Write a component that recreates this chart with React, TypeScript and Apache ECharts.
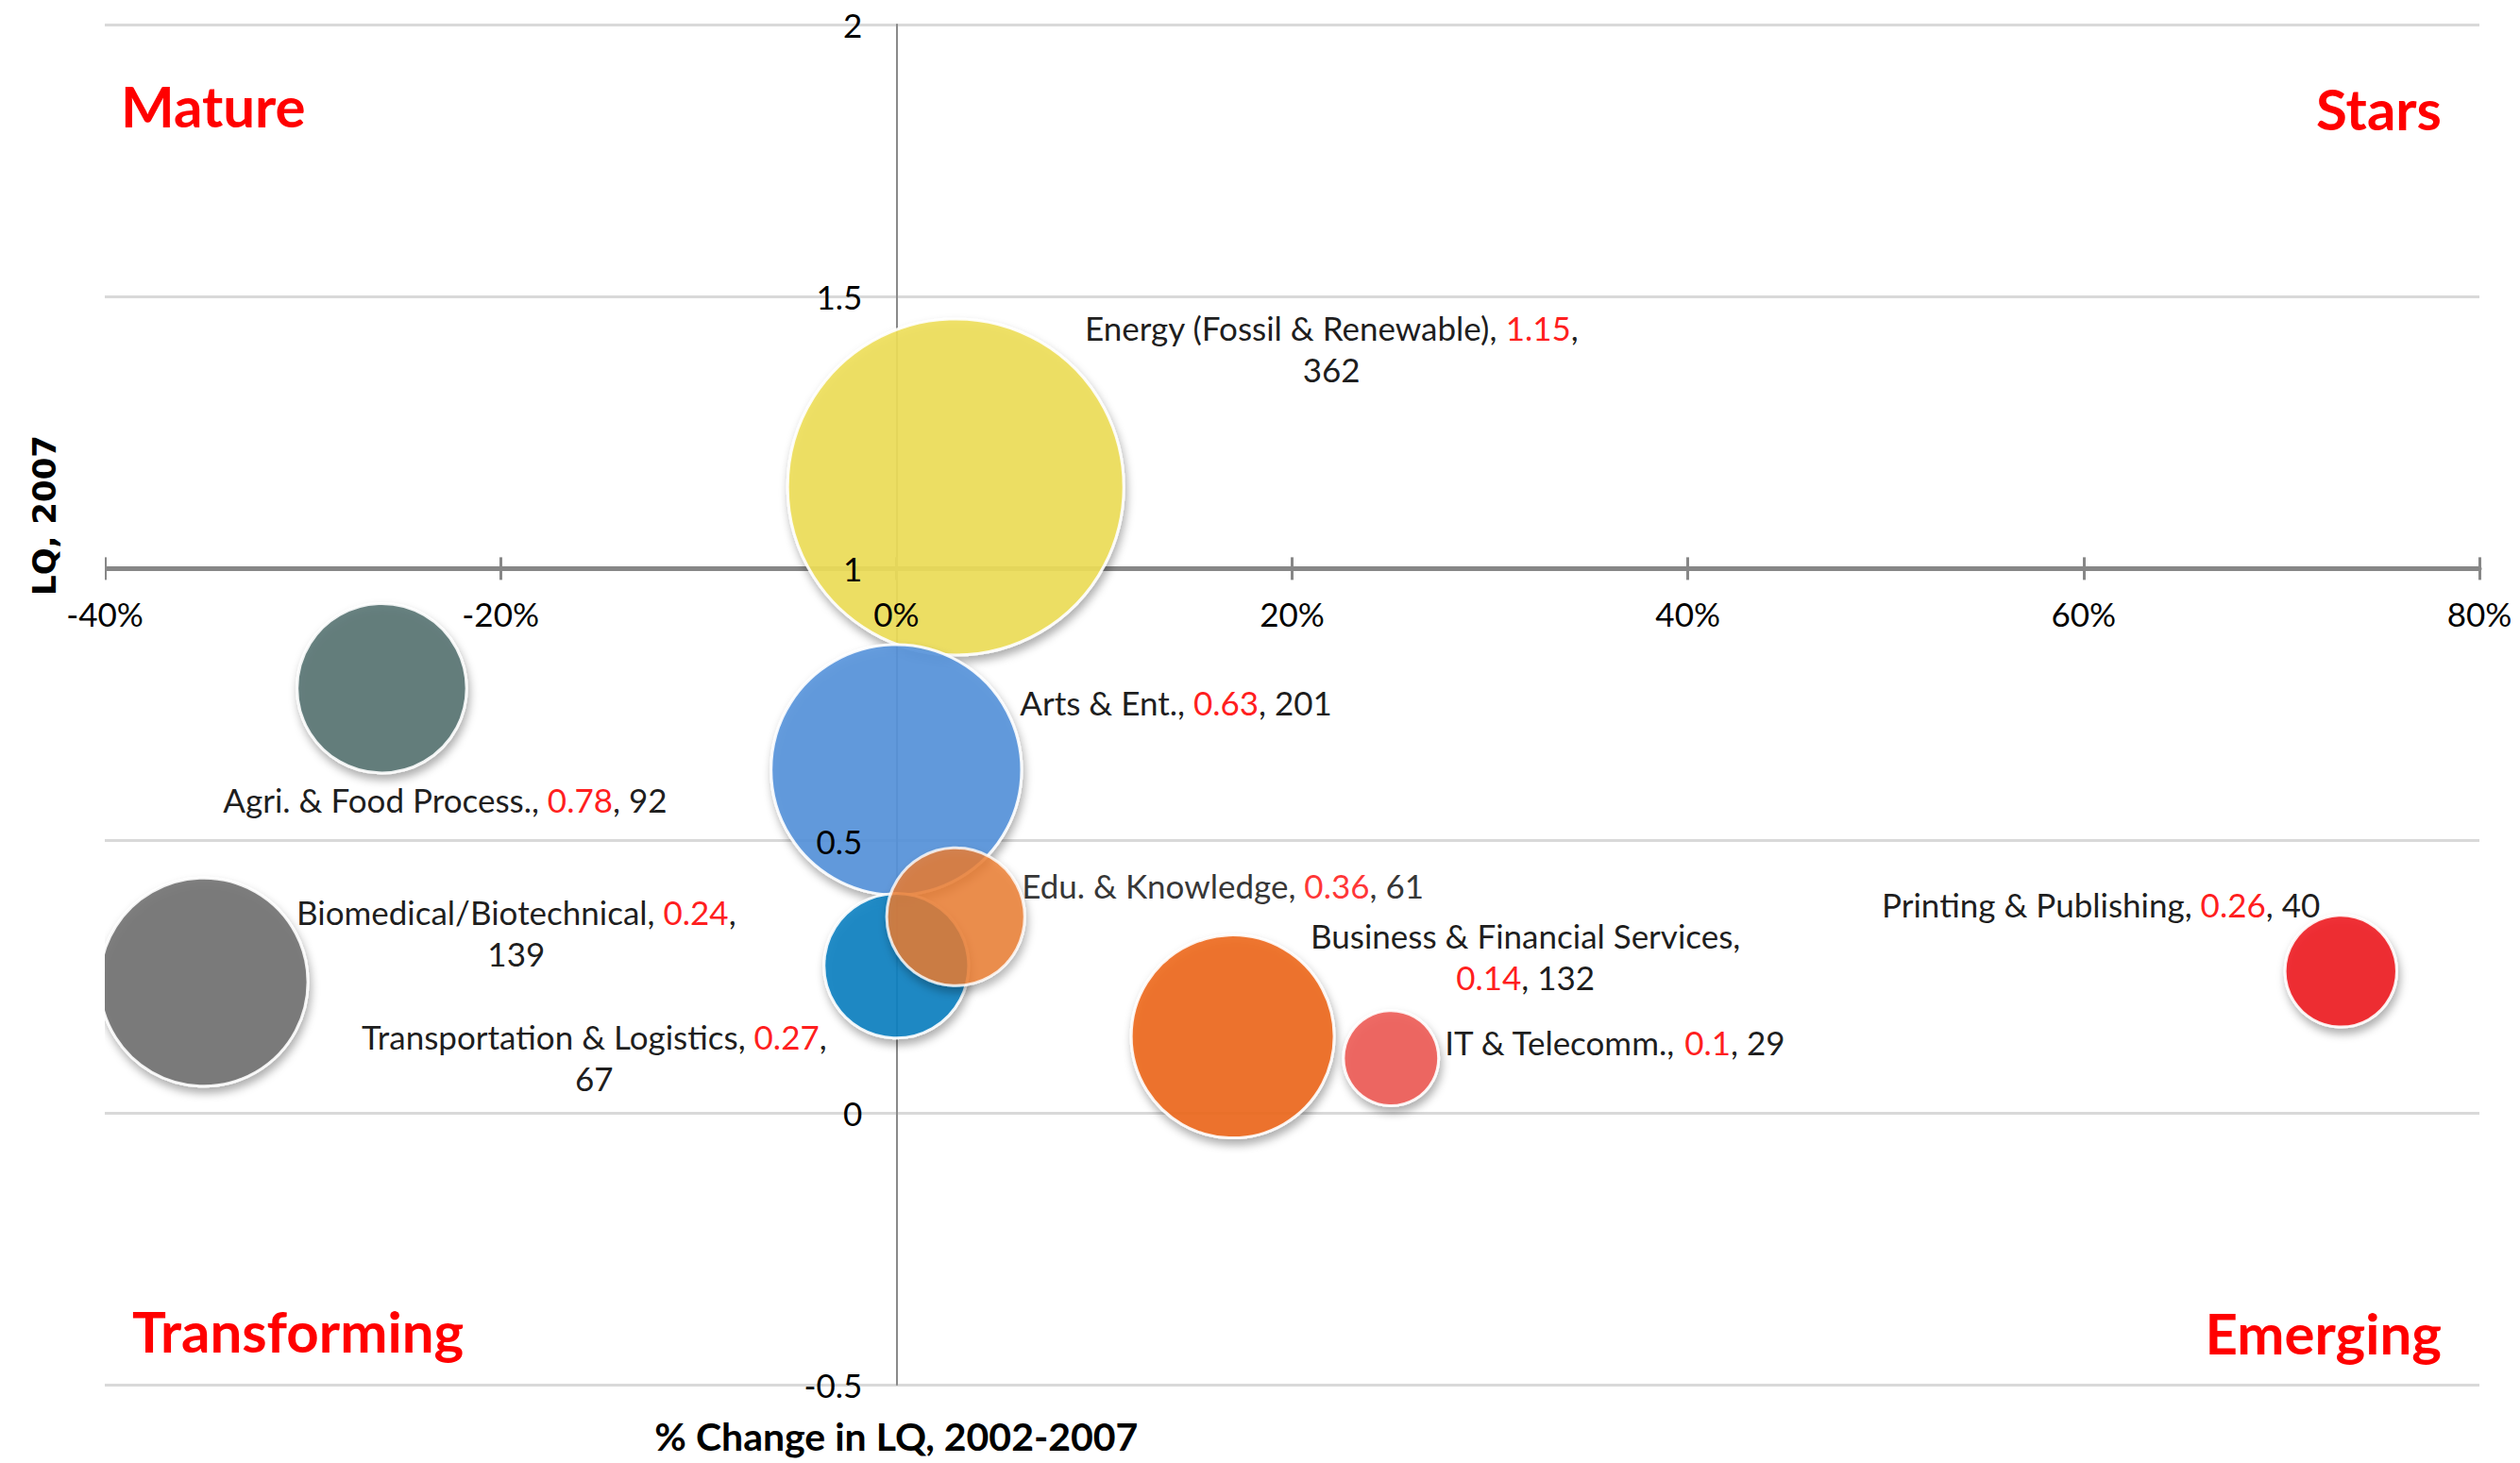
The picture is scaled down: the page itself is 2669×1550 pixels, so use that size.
import React, { useEffect, useRef } from 'react';
import * as echarts from 'echarts';

// ---- Data ----
const names = [
  'Energy (Fossil & Renewable)',
  'Arts & Ent.',
  'Agri. & Food Process.',
  'Biomedical/Biotechnical',
  'Transportation & Logistics',
  'Edu. & Knowledge',
  'Business & Financial Services',
  'IT & Telecomm.',
  'Printing & Publishing',
];
const pctChange = [3, 0, -26, -35, 0, 3, 17, 25, 73]; // % change in LQ, 2002-2007
const lq2007 = [1.15, 0.63, 0.78, 0.24, 0.27, 0.36, 0.14, 0.1, 0.26];
const sizes = [362, 201, 92, 139, 67, 61, 132, 29, 40];
const quadrantLabels = ['Mature', 'Stars', 'Transforming', 'Emerging'];

// ---- Styles / layout ----
const colors = ['#EEDF59', '#5793DC', '#597674', '#727272', '#0D82C2', '#ED7D31', '#EE6A1F', '#EE5C57', '#F02024'];
const opacities = [0.9, 0.9, 0.9, 0.9, 0.9, 0.8, 0.9, 0.9, 0.9];
const labelLayout: { align: string; offset: number[]; wrap: string }[] = [
  { align: 'center', offset: [398, -147], wrap: 'afterValue' },
  { align: 'left', offset: [131, -72], wrap: 'none' },
  { align: 'center', offset: [67, 118], wrap: 'none' },
  { align: 'center', offset: [331, -52], wrap: 'afterValue' },
  { align: 'center', offset: [-320, 97], wrap: 'afterValue' },
  { align: 'left', offset: [70, -33], wrap: 'none' },
  { align: 'center', offset: [310, -85], wrap: 'afterName' },
  { align: 'left', offset: [57, -17], wrap: 'none' },
  { align: 'right', offset: [-22, -71], wrap: 'none' },
];

const W = 2669;
const H = 1550;
const gridLeft = 111;
const gridTop = 26;
const gridWidth = 2515;
const gridHeight = 1441;
const xMin = -40, xMax = 80, xInterval = 20;
const yMin = -0.5, yMax = 2, yInterval = 0.5;
const xCrossAt = 1;
const yCrossAt = 0;
const MAX_DIAMETER = 356;
const maxSize = Math.max(...sizes);
const FONT = 'Lato';
const LABEL_SIZE = 35;

function labelText(i: number) {
  const n = names[i], v = lq2007[i], s = sizes[i];
  const w = labelLayout[i].wrap;
  if (w === 'afterValue') return `{n|${n}, }{r|${v}}{n|,}\n{n|${s}}`;
  if (w === 'afterName') return `{n|${n},}\n{r|${v}}{n|, ${s}}`;
  return `{n|${n}, }{r|${v}}{n|, ${s}}`;
}

export default function App() {
  const ref = useRef<HTMLDivElement>(null);
  useEffect(() => {
    if (!ref.current) return;
    const chart = echarts.init(ref.current, null, { renderer: 'svg' });
    const xAxisOffset = -gridHeight * (xCrossAt - yMin) / (yMax - yMin);
    const yAxisOffset = -gridWidth * (yCrossAt - xMin) / (xMax - xMin);
    const zeroX = gridLeft + gridWidth * (yCrossAt - xMin) / (xMax - xMin);
    const axisGray = '#878787';
    const baseX = {
      type: 'value',
      min: xMin,
      max: xMax,
      interval: xInterval,
      position: 'bottom',
      offset: xAxisOffset,
      splitLine: { show: false },
    };
    const baseY = {
      type: 'value',
      min: yMin,
      max: yMax,
      interval: yInterval,
      position: 'left',
      offset: yAxisOffset,
    };
    const option = {
      animation: false,
      backgroundColor: '#ffffff',
      grid: { left: gridLeft, top: gridTop, width: gridWidth, height: gridHeight, containLabel: false },
      xAxis: [
        {
          ...baseX,
          axisLine: { show: true, onZero: false, lineStyle: { color: axisGray, width: 5 } },
          axisTick: { show: true, length: 12, lineStyle: { color: axisGray, width: 3 } },
          axisLabel: { show: false },
          z: 0,
        },
        {
          ...baseX,
          axisLine: { show: false, onZero: false },
          axisTick: { show: true, inside: true, length: 12, lineStyle: { color: axisGray, width: 3 } },
          axisLabel: { show: false },
          z: 0,
        },
        {
          ...baseX,
          axisLine: { show: false, onZero: false },
          axisTick: { show: false },
          axisLabel: {
            show: true,
            margin: 30,
            formatter: '{value}%',
            color: '#000',
            fontFamily: FONT,
            fontSize: LABEL_SIZE,
          },
          z: 5,
        },
      ],
      yAxis: [
        {
          ...baseY,
          axisLine: { show: true, onZero: false, lineStyle: { color: '#8a8a8a', width: 2 } },
          axisTick: { show: false },
          axisLabel: { show: false },
          splitLine: { show: true, lineStyle: { color: '#d9d9d9', width: 3 } },
          z: 0,
        },
        {
          ...baseY,
          axisLine: { show: false, onZero: false },
          axisTick: { show: false },
          splitLine: { show: false },
          axisLabel: { show: true, margin: 36, color: '#000', fontFamily: FONT, fontSize: LABEL_SIZE },
          z: 5,
        },
      ],
      series: [
        {
          type: 'scatter',
          xAxisIndex: 0,
          yAxisIndex: 0,
          z: 2,
          data: names.map((n, i) => ({
            name: n,
            value: [pctChange[i], lq2007[i], sizes[i]],
            itemStyle: { color: colors[i], opacity: opacities[i] },
            label: { align: labelLayout[i].align, offset: labelLayout[i].offset },
          })),
          symbolSize: (val: number[]) => MAX_DIAMETER * Math.sqrt(val[2] / maxSize),
          itemStyle: {
            borderColor: '#ffffff',
            borderWidth: 3,
            shadowBlur: 10,
            shadowOffsetX: 2,
            shadowOffsetY: 6,
            shadowColor: 'rgba(0,0,0,0.35)',
          },
          label: {
            show: true,
            position: 'inside',
            verticalAlign: 'middle',
            formatter: (p: any) => labelText(p.dataIndex),
            rich: {
              n: { color: '#000', fontSize: LABEL_SIZE, fontFamily: FONT, lineHeight: 44 },
              r: { color: '#ff0000', fontSize: LABEL_SIZE, fontFamily: FONT, lineHeight: 44 },
            },
          },
          emphasis: { disabled: true },
        },
      ],
      graphic: [
        {
          type: 'rect',
          shape: { x: 0, y: gridTop, width: gridLeft, height: gridHeight },
          style: { fill: '#ffffff' },
          z: 3,
          silent: true,
        },
        {
          type: 'text', x: 128, y: 112, z: 6,
          style: { text: quadrantLabels[0], fill: '#ff0000', font: `bold 60px ${FONT}`, align: 'left', verticalAlign: 'middle', textAlign: 'left', textVerticalAlign: 'middle' },
        },
        {
          type: 'text', x: 2586, y: 115, z: 6,
          style: { text: quadrantLabels[1], fill: '#ff0000', font: `bold 60px ${FONT}`, align: 'right', verticalAlign: 'middle', textAlign: 'right', textVerticalAlign: 'middle' },
        },
        {
          type: 'text', x: 140, y: 1410, z: 6,
          style: { text: quadrantLabels[2], fill: '#ff0000', font: `bold 60px ${FONT}`, align: 'left', verticalAlign: 'middle', textAlign: 'left', textVerticalAlign: 'middle' },
        },
        {
          type: 'text', x: 2586, y: 1412, z: 6,
          style: { text: quadrantLabels[3], fill: '#ff0000', font: `bold 60px ${FONT}`, align: 'right', verticalAlign: 'middle', textAlign: 'right', textVerticalAlign: 'middle' },
        },
        {
          type: 'text', x: 47, y: 546, rotation: Math.PI / 2, z: 6,
          style: { text: 'LQ, 2007', fill: '#000', font: 'bold 34px "DejaVu Sans"', align: 'center', verticalAlign: 'middle', textAlign: 'center', textVerticalAlign: 'middle' },
        },
        {
          type: 'text', x: zeroX, y: 1521, z: 6,
          style: { text: '% Change in LQ, 2002-2007', fill: '#000', font: `bold 41px ${FONT}`, align: 'center', verticalAlign: 'middle', textAlign: 'center', textVerticalAlign: 'middle' },
        },
      ],
    };
    chart.setOption(option as any);
    return () => chart.dispose();
  }, []);
  return (
    <div
      ref={ref}
      style={{ position: 'absolute', left: 0, top: 0, width: W, height: H, background: '#fff' }}
    />
  );
}
